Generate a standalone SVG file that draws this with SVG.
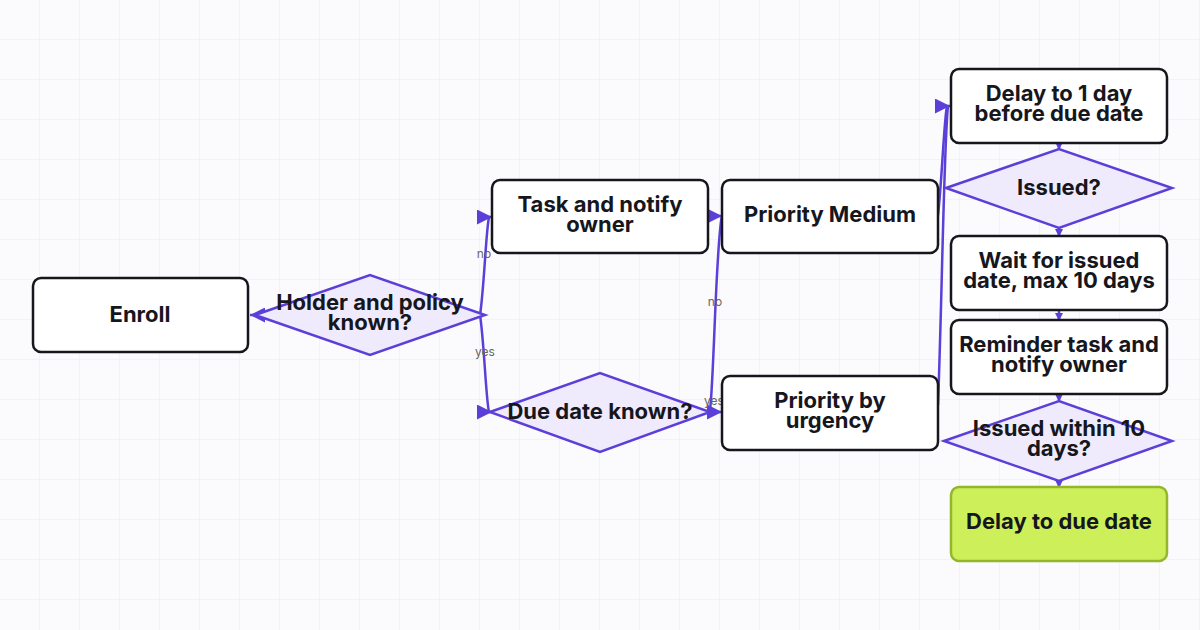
<svg xmlns="http://www.w3.org/2000/svg" width="1200" height="630" viewBox="0 0 1200 630">
<defs>
<pattern id="grid" width="40" height="40" patternUnits="userSpaceOnUse"><path d="M40 0V40M0 40H40" fill="none" stroke="#ebe8f6" stroke-width="1"/></pattern>
<marker id="ah" viewBox="0 0 10 10" refX="10" refY="5" markerWidth="15" markerHeight="15" markerUnits="userSpaceOnUse" orient="auto"><path d="M0 0L10 5L0 10Z" fill="#5b3fd8"/></marker>
<marker id="as" viewBox="0 0 10 10" refX="10" refY="5" markerWidth="8" markerHeight="8" markerUnits="userSpaceOnUse" orient="auto"><path d="M0 0L10 5L0 10Z" fill="#5b3fd8"/></marker>
</defs>
<style>
.n{fill:#fff;stroke:#16161d;stroke-width:2.5}
.d{fill:#efebfc;stroke:#5b3fd8;stroke-width:2.5}
.g{fill:#cdf05a;stroke:#93b62a;stroke-width:2.5}
.t{font-family:Inter,"Noto Sans",sans-serif;font-weight:700;font-size:22px;fill:#16161d;text-anchor:middle}
.e{fill:none;stroke:#5b3fd8;stroke-width:2.5}
.l{font-family:Inter,"Noto Sans",sans-serif;font-size:12px;fill:#666;text-anchor:middle}
</style>
<rect width="1200" height="630" fill="#fbfbfe"/>
<rect width="1200" height="630" fill="url(#grid)"/>
<g id="connectors">
<path class="e" d="M262 315H250" marker-end="url(#ah)"/>
<path class="e" d="M480 315C484 290 486 230 489 217H492" marker-end="url(#ah)"/>
<path class="e" d="M480 315C484 340 486 400 489 412H492" marker-end="url(#ah)"/>
<path class="e" d="M708 216H722" marker-end="url(#ah)"/>
<path class="e" d="M700 412H722" marker-end="url(#ah)"/>
<path class="e" d="M710 410C714 380 716 240 722 216"/>
<path class="e" d="M938 215C942 180 944 120 947 106H950" marker-end="url(#ah)"/>
<path class="e" d="M938 405C942 300 944 140 948 106"/>
<path class="e" d="M1059 143V150" marker-end="url(#as)"/>
<path class="e" d="M1059 228V237" marker-end="url(#as)"/>
<path class="e" d="M1059 310V321" marker-end="url(#as)"/>
<path class="e" d="M1059 394V402" marker-end="url(#as)"/>
<path class="e" d="M1059 481V488" marker-end="url(#as)"/>
<text class="l" x="484" y="258">no</text>
<text class="l" x="485" y="356">yes</text>
<text class="l" x="715" y="306">no</text>
<text class="l" x="714" y="405">yes</text>
</g>
<g id="enroll"><rect class="n" x="33" y="278" width="215" height="74" rx="8"/><text class="t" x="140" y="322">Enroll</text></g>
<g id="holder"><path class="d" d="M255 315L370 275L485 315L370 355Z"/><text class="t" x="370" y="310">Holder and policy</text><text class="t" x="370" y="330">known?</text></g>
<g id="task"><rect class="n" x="492" y="180" width="216" height="73" rx="8"/><text class="t" x="600" y="212">Task and notify</text><text class="t" x="600" y="232">owner</text></g>
<g id="due"><path class="d" d="M490 412L600 373L710 412L600 452Z"/><text class="t" x="600" y="419">Due date known?</text></g>
<g id="pmed"><rect class="n" x="722" y="180" width="216" height="73" rx="8"/><text class="t" x="830" y="222">Priority Medium</text></g>
<g id="purg"><rect class="n" x="722" y="376" width="216" height="74" rx="8"/><text class="t" x="830" y="408">Priority by</text><text class="t" x="830" y="428">urgency</text></g>
<g id="delay1"><rect class="n" x="951" y="69" width="216" height="74" rx="8"/><text class="t" x="1059" y="101">Delay to 1 day</text><text class="t" x="1059" y="121">before due date</text></g>
<g id="issued"><path class="d" d="M946 188L1059 149L1172 188L1059 228Z"/><text class="t" x="1059" y="195">Issued?</text></g>
<g id="wait"><rect class="n" x="951" y="236" width="216" height="74" rx="8"/><text class="t" x="1059" y="268">Wait for issued</text><text class="t" x="1059" y="288">date, max 10 days</text></g>
<g id="remind"><rect class="n" x="951" y="320" width="216" height="74" rx="8"/><text class="t" x="1059" y="352">Reminder task and</text><text class="t" x="1059" y="372">notify owner</text></g>
<g id="issued10"><path class="d" d="M944 441L1059 401L1172 441L1059 481Z"/><text class="t" x="1059" y="436">Issued within 10</text><text class="t" x="1059" y="456">days?</text></g>
<g id="delaydue"><rect class="g" x="951" y="487" width="216" height="74" rx="8"/><text class="t" x="1059" y="529">Delay to due date</text></g>
</svg>
